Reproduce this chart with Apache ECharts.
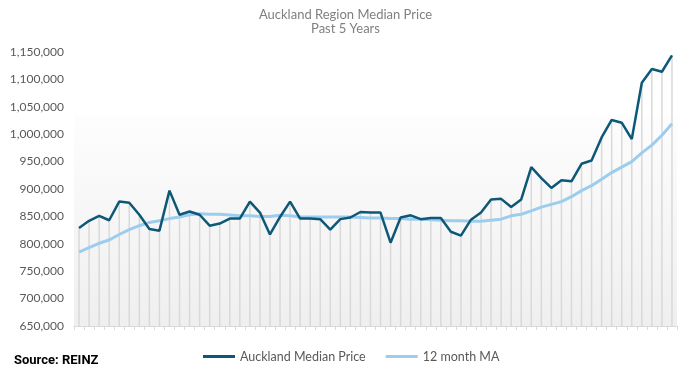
<!DOCTYPE html>
<html>
<head>
<meta charset="utf-8">
<script src="https://cdn.jsdelivr.net/npm/echarts@6/dist/echarts.min.js"></script>
<style>html,body{margin:0;padding:0;background:#fff}#c{width:691px;height:373px}</style>
</head>
<body>
<div id="c"></div>
<script>
var months = [];
for (var i = 1; i <= 60; i++) { months.push('M' + i); }
var medianPrice = [
  829000, 842000, 851000, 843000, 877000, 875000, 853000, 827000, 824000, 897000,
  853000, 859000, 853000, 833000, 837000, 846000, 846000, 877000, 857000, 817000,
  849000, 877000, 846000, 846000, 845000, 826000, 845000, 848000, 858000, 857000,
  857000, 802000, 848000, 852000, 845000, 847000, 847000, 822000, 815000, 844000,
  857000, 881000, 882000, 867000, 881000, 940000, 920000, 902000, 916000, 914000,
  946000, 952000, 994000, 1026000, 1021000, 991000, 1094000, 1119000, 1114000, 1144000
];
var movingAvg = [
  785000, 793000, 801000, 807000, 817000, 826000, 833000, 839000, 842000, 846000,
  849000, 853000, 855000, 854000, 854000, 852500, 851000, 851000, 850000, 850000,
  852000, 851000, 849000, 849000, 849000, 849000, 849000, 849000, 848000, 847000,
  847000, 846000, 846000, 845000, 845000, 844000, 843000, 842000, 842000, 841000,
  841000, 843000, 845000, 851000, 854000, 860000, 867000, 872000, 877000, 886000,
  897000, 906000, 918000, 930000, 940000, 950000, 966000, 980000, 998000, 1019000
];
var yMin = 650000, yMax = 1150000, yStep = 50000;

var chart = echarts.init(document.getElementById('c'));
var font = 'Lato, "Open Sans", sans-serif';
chart.setOption({
  animation: false,
  title: [
    { text: 'Auckland Region Median Price\nPast 5 Years', left: 'center', top: 3,
      textStyle: { fontFamily: font, fontSize: 13, fontWeight: 'normal', color: '#808080', lineHeight: 14 } },
    { text: 'Source: REINZ', left: 9, top: 349,
      textStyle: { fontFamily: 'Roboto, sans-serif', fontSize: 13, fontWeight: 'bold', color: '#000' } }
  ],
  legend: {
    left: 198, top: 345,
    itemWidth: 32, itemHeight: 3, itemGap: 20,
    icon: 'rect',
    textStyle: { fontFamily: font, fontSize: 12.5, color: '#595959' },
    data: ['Auckland Median Price', '12 month MA']
  },
  grid: {
    left: 74, right: 14, top: 52, bottom: 47, show: true, borderWidth: 0,
    backgroundColor: new echarts.graphic.LinearGradient(0, 0, 0, 1, [
      { offset: 0, color: '#ffffff' },
      { offset: 0.232, color: '#ffffff' },
      { offset: 0.234, color: '#fdfdfd' },
      { offset: 1, color: '#efefef' }
    ])
  },
  xAxis: {
    type: 'category', data: months, boundaryGap: true,
    axisLine: { lineStyle: { color: '#d9d9d9', width: 1 } },
    axisTick: { show: true, interval: 0, length: 4, lineStyle: { color: '#d9d9d9' } },
    axisLabel: { show: false },
    splitLine: { show: false }
  },
  yAxis: {
    type: 'value', min: yMin, max: yMax, interval: yStep,
    axisLine: { show: false }, axisTick: { show: false },
    splitLine: { show: false },
    axisLabel: {
      fontFamily: font, fontSize: 12, color: '#595959', margin: 10,
      formatter: function (v) { return v.toLocaleString('en-US'); }
    }
  },
  series: [
    { name: 'drop', type: 'bar', data: medianPrice, barWidth: 1.5, silent: true,
      itemStyle: { color: '#d9d9d9' }, z: 1, legendHoverLink: false },
    { name: '12 month MA', type: 'line', data: movingAvg, symbol: 'none', z: 3,
      lineStyle: { color: '#9dcdee', width: 3 }, itemStyle: { color: '#9dcdee' } },
    { name: 'Auckland Median Price', type: 'line', data: medianPrice, symbol: 'none', z: 4,
      lineStyle: { color: '#0d5877', width: 2.5 }, itemStyle: { color: '#0d5877' } }
  ]
});
</script>
</body>
</html>
